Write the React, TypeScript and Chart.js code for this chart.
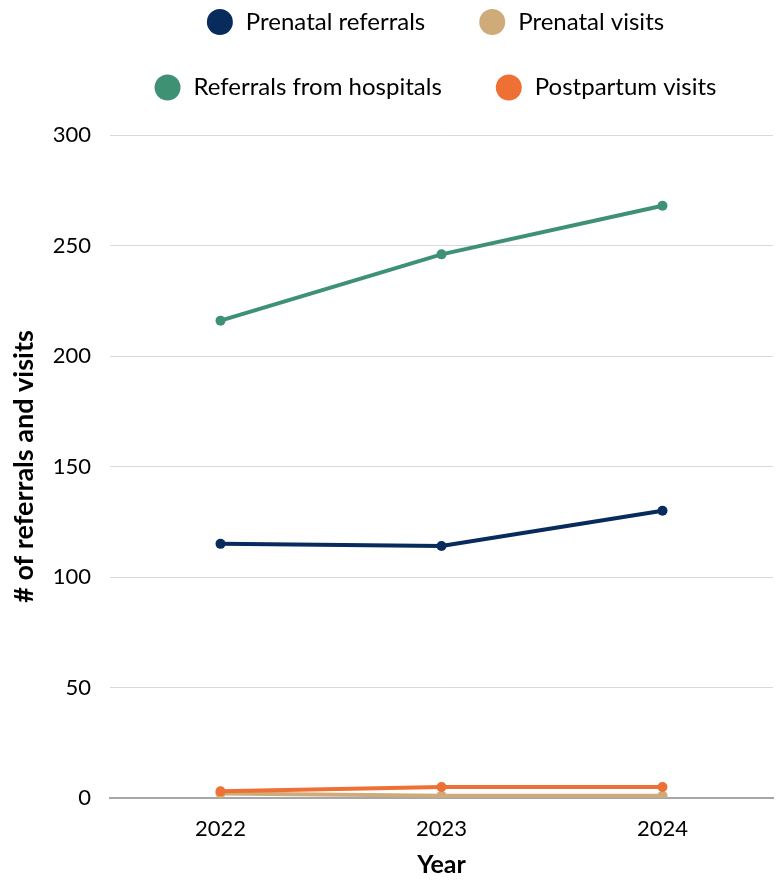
import { useEffect, useRef } from 'react';
import { Chart, registerables } from 'chart.js';

Chart.register(...registerables);

const years = ['2022', '2023', '2024'];
const prenatalReferrals = [115, 114, 130];
const prenatalVisits = [2, 1, 1];
const referralsFromHospitals = [216, 246, 268];
const postpartumVisits = [3, 5, 5];
const seriesLabels = ['Prenatal referrals', 'Prenatal visits', 'Referrals from hospitals', 'Postpartum visits'];
const seriesColors = ['#072b5c', '#cfab7a', '#3f9174', '#ee7034'];
const yMin = 0;
const yMax = 300;
const yStep = 50;
const yTitle = '# of referrals and visits';
const xTitle = 'Year';

const FONT = 'Lato';

// Legend drawn in two centered rows (two entries per row)
const rowLegend = {
  id: 'rowLegend',
  afterDraw(chart: any) {
    const ctx = chart.ctx as CanvasRenderingContext2D;
    const ds = chart.data.datasets;
    const rows = [[0, 1], [2, 3]];
    const baselines = [29.5, 94.5];
    const centersY = [22, 87.5];
    const radius = 13;
    const textGap = 13;
    const itemGap = 54;
    const centerX = 435.5;
    ctx.save();
    ctx.font = `24px ${FONT}`;
    ctx.textAlign = 'left';
    ctx.textBaseline = 'alphabetic';
    rows.forEach((row, ri) => {
      const widths = row.map((i) => radius * 2 + textGap + ctx.measureText(ds[i].label).width);
      const total = widths.reduce((a, b) => a + b, 0) + itemGap * (row.length - 1);
      let x = centerX - total / 2;
      row.forEach((i, k) => {
        ctx.fillStyle = ds[i].borderColor;
        ctx.beginPath();
        ctx.arc(x + radius, centersY[ri], radius, 0, Math.PI * 2);
        ctx.fill();
        ctx.fillStyle = '#000';
        ctx.fillText(ds[i].label, x + radius * 2 + textGap, baselines[ri]);
        x += widths[k] + itemGap;
      });
    });
    ctx.restore();
  },
};

export default function App() {
  const ref = useRef<HTMLCanvasElement | null>(null);

  useEffect(() => {
    if (!ref.current) return;
    const series = [prenatalReferrals, prenatalVisits, referralsFromHospitals, postpartumVisits];
    const orders = [1, 2, 1, 0];
    const chart = new Chart(ref.current, {
      type: 'line',
      data: {
        labels: years,
        datasets: series.map((values, i) => ({
          label: seriesLabels[i],
          data: values,
          borderColor: seriesColors[i],
          backgroundColor: seriesColors[i],
          pointBackgroundColor: seriesColors[i],
          pointBorderColor: seriesColors[i],
          borderWidth: 4,
          pointRadius: 5,
          pointBorderWidth: 0,
          tension: 0,
          fill: false,
          order: orders[i],
        })),
      },
      options: {
        animation: false,
        responsive: true,
        maintainAspectRatio: false,
        layout: { padding: { top: 135, right: 9, left: 0, bottom: 0 } },
        plugins: {
          legend: { display: false },
          tooltip: { enabled: false },
        },
        scales: {
          x: {
            offset: true,
            grid: { display: false },
            border: { display: true, color: '#a6a6a6', width: 2 },
            ticks: { color: '#000', font: { family: FONT, size: 22 }, padding: 10 },
            title: {
              display: true,
              text: xTitle,
              color: '#000',
              font: { family: FONT, size: 25, weight: 'bold' },
              padding: { top: 0, bottom: 2 },
            },
            afterFit: (scale: any) => {
              scale.height = 84;
            },
          },
          y: {
            min: yMin,
            max: yMax,
            ticks: { stepSize: yStep, color: '#000', font: { family: FONT, size: 22 }, padding: 19 },
            grid: {
              drawTicks: false,
              color: (c: any) => (c.tick && c.tick.value === 0 ? '#a6a6a6' : '#d9d9d9'),
              lineWidth: (c: any) => (c.tick && c.tick.value === 0 ? 2 : 1),
            },
            border: { display: false },
            title: {
              display: true,
              text: yTitle,
              color: '#000',
              font: { family: FONT, size: 27, weight: 'bold' },
              padding: { top: 8, bottom: 0 },
            },
            afterFit: (scale: any) => {
              scale.width = 110;
            },
          },
        },
      },
      plugins: [rowLegend],
    });
    return () => chart.destroy();
  }, []);

  return (
    <div style={{ position: 'absolute', left: 0, top: 0, width: 782, height: 882 }}>
      <canvas ref={ref} />
    </div>
  );
}
